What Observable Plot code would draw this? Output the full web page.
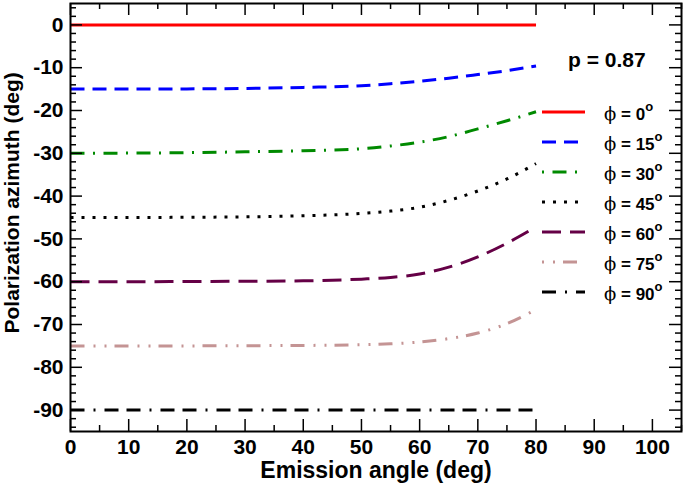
<!DOCTYPE html>
<html>
<head>
<meta charset="utf-8">
<script src="https://cdn.jsdelivr.net/npm/d3@7"></script>
<script src="https://cdn.jsdelivr.net/npm/@observablehq/plot@0.6"></script>
<style>
  html, body { margin: 0; padding: 0; background: white; }
</style>
</head>
<body>
<div id="chart"></div>
<script>
// ---- data ----
const angles = [0, 10, 20, 30, 40, 50, 55, 60, 65, 70, 75, 80];
const phis = [0, 15, 30, 45, 60, 75, 90];
const az0  = [0, 0, 0, 0, 0, 0, 0, 0, 0, 0, 0, 0];
const az15 = [-15, -15, -14.95, -14.85, -14.6, -14.2, -13.75, -13.15, -12.45, -11.6, -10.7, -9.6];
const az30 = [-30, -29.95, -29.85, -29.65, -29.4, -28.95, -28.3, -27.4, -26.1, -24.3, -22.4, -20.3];
const az45 = [-45, -45, -44.95, -44.85, -44.6, -44.05, -43.5, -42.6, -41.0, -38.8, -36.0, -32.4];
const az60 = [-60, -60, -59.95, -59.9, -59.8, -59.4, -59.0, -58.2, -56.6, -54.2, -51.0, -47.2];
const az75 = [-75, -75, -75, -74.95, -74.9, -74.7, -74.5, -74.1, -73.3, -72.0, -69.8, -66.5];
const az90 = [-90, -90, -90, -90, -90, -90, -90, -90, -90, -90, -90, -90];
const seriesValues = [az0, az15, az30, az45, az60, az75, az90];
const colors = ["#ff0000", "#0000ff", "#008a00", "#000000", "#650046", "#c49494", "#000000"];
const dashes = ["none", "14,8", "14,8.5,2,8.5", "3,8", "19,9", "14,9,2,9,2,8", "14,9,2,9,14,8"];
const legendDashOffsets = [0, 0, 22.5, 0, 0, 23, 0];
const xTickLabels = [0, 10, 20, 30, 40, 50, 60, 70, 80, 90, 100];
const yTickLabels = [0, -10, -20, -30, -40, -50, -60, -70, -80, -90];
const xMinor = [5, 15, 25, 35, 45, 55, 65, 75, 85, 95, 105];
const yMinor = d3.range(-94, 5, 2).filter(v => v % 10 !== 0);
const pLabel = "p = 0.87";
const xLabel = "Emission angle (deg)";
const yLabel = "Polarization azimuth (deg)";

// ---- layout ----
const W = 684, H = 485;
const ML = 70, MR = 3, MT = 3, MB = 54;
const innerW = W - ML - MR, innerH = H - MT - MB;
const FONT = "'Liberation Sans', Arial, Helvetica, sans-serif";

const rows = [];
phis.forEach((p, i) => angles.forEach((a, j) => rows.push({phi: p, angle: a, az: seriesValues[i][j]})));

const lineMarks = phis.map((p, i) =>
  Plot.line(rows.filter(r => r.phi === p), {
    x: "angle", y: "az", curve: "monotone-x",
    stroke: colors[i], strokeWidth: 3, strokeDasharray: dashes[i],
    strokeLinecap: "butt"
  })
);

function legend() {
  const g = d3.create("svg:g").attr("font-family", FONT).attr("font-weight", "bold")
    .attr("fill", "black").attr("text-anchor", "start");
  const xr = W - MR;
  g.append("text").attr("x", xr - 113).attr("y", 67).attr("font-size", 21).attr("text-anchor", "start").text(pLabel);
  phis.forEach((p, i) => {
    const y = 112 + 30 * i;
    g.append("line").attr("x1", xr - 139).attr("x2", xr - 96).attr("y1", y).attr("y2", y)
      .attr("stroke", colors[i]).attr("stroke-width", 3)
      .attr("stroke-dasharray", dashes[i])
      .attr("stroke-dashoffset", legendDashOffsets[i]);
    const t = g.append("text").attr("x", xr - 77).attr("y", y + 8).attr("font-size", 17).attr("text-anchor", "start");
    t.append("tspan").attr("font-family", "'DejaVu Serif', 'Liberation Serif', serif").attr("font-weight", "normal").attr("font-size", 18).text("\u03D5");
    t.append("tspan").text(" = " + p);
    t.append("tspan").attr("font-size", 13).attr("dy", -9).text("o");
  });
  return g.node();
}

const chart = Plot.plot({
  width: W, height: H,
  marginLeft: ML, marginRight: MR, marginTop: MT, marginBottom: MB,
  style: {fontFamily: FONT, fontWeight: "bold", fontSize: "21px", color: "black", background: "white", overflow: "visible"},
  x: {domain: [0, 105]},
  y: {domain: [-95, 5]},
  marks: [
    ...lineMarks,
    // inward ticks on all four sides
    Plot.tickX(xTickLabels, {x: d => d, insetTop: innerH - 12, stroke: "black", strokeWidth: 1.5}),
    Plot.tickX(xTickLabels, {x: d => d, insetBottom: innerH - 12, stroke: "black", strokeWidth: 1.5}),
    Plot.tickX(xMinor, {x: d => d, insetTop: innerH - 6, stroke: "black", strokeWidth: 1.5}),
    Plot.tickX(xMinor, {x: d => d, insetBottom: innerH - 6, stroke: "black", strokeWidth: 1.5}),
    Plot.tickY(yTickLabels, {y: d => d, insetRight: innerW - 12, stroke: "black", strokeWidth: 1.5}),
    Plot.tickY(yTickLabels, {y: d => d, insetLeft: innerW - 12, stroke: "black", strokeWidth: 1.5}),
    Plot.tickY(yMinor, {y: d => d, insetRight: innerW - 6, stroke: "black", strokeWidth: 1.5}),
    Plot.tickY(yMinor, {y: d => d, insetLeft: innerW - 6, stroke: "black", strokeWidth: 1.5}),
    Plot.frame({stroke: "black", strokeWidth: 2}),
    Plot.axisX({ticks: xTickLabels, tickSize: 0, tickPadding: 8, tickFormat: d => String(d), label: null, fontSize: 21}),
    Plot.axisY({ticks: yTickLabels, tickSize: 0, tickPadding: 7, tickFormat: d => String(d), label: null, fontSize: 21}),
    Plot.text([xLabel], {frameAnchor: "bottom", dy: 46, text: d => d, fontSize: 23, fontWeight: "bold", fill: "black"}),
    Plot.text([yLabel], {frameAnchor: "bottom-left", dx: -52, dy: -98, rotate: -90, textAnchor: "start", text: d => d, fontSize: 21, fontWeight: "bold", fill: "black"}),
    legend
  ]
});
document.getElementById("chart").appendChild(chart);
</script>
</body>
</html>
